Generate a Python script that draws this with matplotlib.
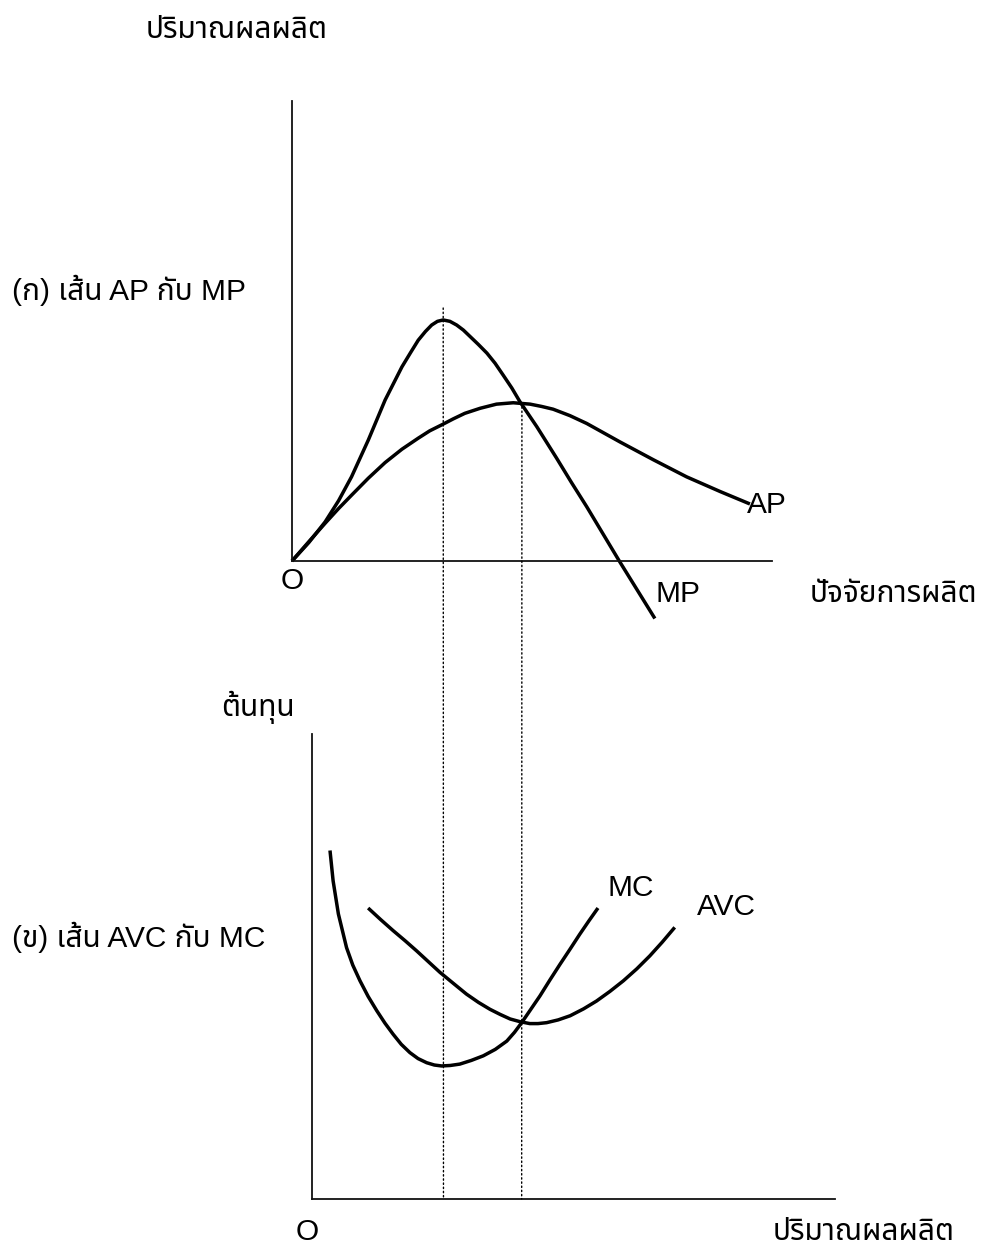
import matplotlib
matplotlib.use("Agg")
import matplotlib.pyplot as plt
from matplotlib.patches import ConnectionPatch

plt.rcParams["font.family"] = ["Liberation Sans", "Noto Sans Thai", "Loma", "Garuda",
                               "Norasi", "Tlwg Typo", "Waree", "DejaVu Sans"]

W, H = 984, 1244

# (ก) product curves: variable input vs output
mp_x = [0, 0.35, 0.69, 0.97, 1.24, 1.59, 1.94, 2.29, 2.47, 2.63, 2.78, 2.91, 3.03,
        3.15, 3.29, 3.43, 3.57, 3.71, 3.88, 4.06, 4.23, 4.40, 4.58, 4.75, 5.10,
        5.51, 5.82, 6.14, 6.83, 7.56]
mp_y = [0, 0.40, 0.85, 1.31, 1.83, 2.63, 3.50, 4.22, 4.53, 4.80, 4.99, 5.13, 5.21,
        5.24, 5.21, 5.13, 5.02, 4.88, 4.71, 4.52, 4.30, 4.04, 3.76, 3.46, 2.92,
        2.24, 1.71, 1.18, -0.02, -1.25]
ap_x = [0, 0.35, 0.69, 0.97, 1.24, 1.59, 1.94, 2.29, 2.63, 2.87, 3.12, 3.36, 3.60,
        3.92, 4.26, 4.61, 4.96, 5.20, 5.44, 5.79, 6.14, 6.83, 7.53, 8.22, 8.92, 9.54]
ap_y = [0, 0.42, 0.82, 1.14, 1.43, 1.80, 2.14, 2.43, 2.67, 2.83, 2.96, 3.09, 3.21,
        3.32, 3.41, 3.44, 3.41, 3.36, 3.30, 3.16, 2.99, 2.59, 2.20, 1.83, 1.51, 1.24]

# (ข) cost curves: output vs cost
mc_x = [0.375, 0.44, 0.55, 0.72, 0.85, 1.00, 1.17, 1.35, 1.52, 1.69, 1.86, 2.04,
        2.21, 2.39, 2.55, 2.70, 2.88, 3.08, 3.32, 3.57, 3.82, 4.06, 4.22, 4.37, 4.56,
        4.75, 4.96, 5.17, 5.38, 5.58, 5.77, 5.96]
mc_y = [7.57, 6.91, 6.19, 5.46, 5.08, 4.74, 4.40, 4.09, 3.82, 3.58, 3.36, 3.18,
        3.05, 2.96, 2.91, 2.89, 2.90, 2.93, 3.01, 3.11, 3.25, 3.43, 3.62, 3.83, 4.12,
        4.41, 4.76, 5.10, 5.43, 5.75, 6.04, 6.32]
avc_x = [1.17, 1.43, 1.69, 1.94, 2.18, 2.43, 2.67, 2.95, 3.22, 3.47, 3.71, 3.92,
         4.13, 4.34, 4.54, 4.71, 4.89, 5.13, 5.38, 5.66, 5.93, 6.21, 6.49, 6.77,
         7.04, 7.30, 7.56]
avc_y = [6.32, 6.07, 5.83, 5.61, 5.39, 5.15, 4.92, 4.68, 4.45, 4.27, 4.12, 4.01,
         3.91, 3.85, 3.81, 3.81, 3.83, 3.89, 3.98, 4.13, 4.30, 4.51, 4.74, 5.00,
         5.28, 5.58, 5.90]

# guide lines: MP max <-> MC min, AP max <-> AVC min
guide_input = [3.15, 4.79]
guide_top = [5.50, 3.35]
guide_output = [2.74, 4.37]


def box(left, top, right, bottom):
    return [left / W, 1 - bottom / H, (right - left) / W, (bottom - top) / H]


def at(x, y):
    return x / W, 1 - y / H


fig = plt.figure(figsize=(W / 100, H / 100), dpi=100)
ax_top = fig.add_axes(box(292, 101, 772, 561))
ax_bot = fig.add_axes(box(312, 734, 835, 1199))

for ax in (ax_top, ax_bot):
    ax.set_facecolor("none")
    for side in ("top", "right"):
        ax.spines[side].set_visible(False)
    for side in ("left", "bottom"):
        ax.spines[side].set_linewidth(1.3)
        ax.spines[side].set_color("#111111")
    ax.set_xticks([])
    ax.set_yticks([])

ax_top.set_xlim(0, 10)
ax_top.set_ylim(0, 10)
ax_bot.set_xlim(0, 10.9)
ax_bot.set_ylim(0, 10.1)

curve = dict(color="black", lw=2.5, clip_on=False, solid_joinstyle="round",
             solid_capstyle="butt")
ax_top.plot(mp_x, mp_y, **curve)
ax_top.plot(ap_x, ap_y, **curve)
ax_bot.plot(mc_x, mc_y, **curve)
ax_bot.plot(avc_x, avc_y, **curve)

for xi, yt, xo in zip(guide_input, guide_top, guide_output):
    con = ConnectionPatch(xyA=(xi, yt), coordsA=ax_top.transData,
                          xyB=(xo, 0), coordsB=ax_bot.transData,
                          color="black", lw=1.0, linestyle=(0, (1, 2)))
    fig.add_artist(con)

fs = 21.5
fig.text(*at(146, 30), "ปริมาณผลผลิต", fontsize=fs, va="center")
fig.text(*at(12, 290), "(ก) เส้น AP กับ MP", fontsize=fs, va="center")
fig.text(*at(292, 581), "O", fontsize=fs, ha="center", va="center")
fig.text(*at(747, 505), "AP", fontsize=fs, va="center")
fig.text(*at(656, 594), "MP", fontsize=fs, va="center")
fig.text(*at(810, 594), "ปัจจัยการผลิต", fontsize=fs, va="center")

fig.text(*at(221, 707), "ต้นทุน", fontsize=fs, va="center")
fig.text(*at(12, 937), "(ข) เส้น AVC กับ MC", fontsize=fs, va="center")
fig.text(*at(631, 888), "MC", fontsize=fs, ha="center", va="center")
fig.text(*at(726, 907), "AVC", fontsize=fs, ha="center", va="center")
fig.text(*at(307, 1232), "O", fontsize=fs, ha="center", va="center")
fig.text(*at(864, 1232), "ปริมาณผลผลิต", fontsize=fs, ha="center", va="center")

fig.savefig("out.png", dpi=100, facecolor="white")
